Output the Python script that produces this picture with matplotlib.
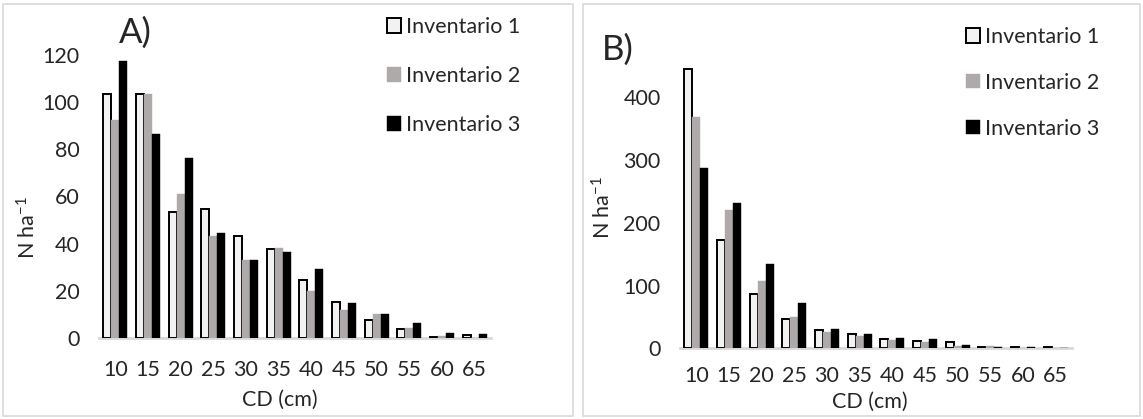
"""
Diametric distribution (N/ha by diameter class) for three inventories,
two panels A) and B) in the style of an Excel column chart
"""

import numpy as np
import matplotlib
matplotlib.use('Agg')
import matplotlib.pyplot as plt
from matplotlib.patches import Rectangle

# diameter classes (cm)
classes = ['10', '15', '20', '25', '30', '35', '40', '45', '50', '55', '60', '65']
series = ['Inventario 1', 'Inventario 2', 'Inventario 3']

# panel A values (N/ha)
a_inv1 = [103.3, 103.3, 53.2, 54.6, 43.3, 37.9, 24.6, 15.1, 7.8, 3.8, 0.4, 1.1]
a_inv2 = [92.4, 103.3, 61.1, 43.2, 33.0, 38.3, 19.8, 11.7, 10.3, 4.2, 1.0, 0.0]
a_inv3 = [117.2, 86.5, 76.4, 44.3, 33.0, 36.4, 29.1, 15.0, 10.3, 6.4, 2.3, 1.6]

# panel B values (N/ha)
b_inv1 = [445, 173, 86.6, 47.3, 29.0, 23.4, 15.4, 12.2, 9.6, 1.6, 2.1, 1.6]
b_inv2 = [368, 220, 108, 49.4, 26.6, 20.0, 13.8, 10.6, 3.7, 4.2, 1.0, 0.5]
b_inv3 = [287, 231, 134, 72.8, 30.8, 22.3, 15.9, 14.9, 5.8, 2.7, 1.6, 0.0]

# style
fill = ['#f2f2f2', '#aeaaaa', '#000000']
edge = ['#000000', '#aeaaaa', '#000000']
txt = '#262626'
plt.rcParams['font.family'] = ['Lato', 'DejaVu Sans']
plt.rcParams['mathtext.default'] = 'regular'
fs = 15.5

W, H = 1143, 419
plt.close('all')
fig = plt.figure(figsize=(W / 100, H / 100), dpi=100)

# panel borders (pixel boxes -> figure fractions)
for x0, x1 in [(3, 573), (583, 1140)]:
    fig.patches.append(Rectangle((x0 / W, 1 - 416 / H), (x1 - x0) / W, 412 / H,
                                 transform=fig.transFigure, fill=False,
                                 edgecolor='#d9d9d9', linewidth=1.2))


def ftext(px, py, s, **kw):
    # text placed by pixel centre
    fig.text(px / W, 1 - py / H, s, ha='center', va='center', color=txt, **kw)


def panel(rect, data, ymax, yticks, ylab_xy, xlab_xy, letter, letter_xy,
          leg_xy, xpad, lsp):
    ax = fig.add_axes(rect)
    x = np.arange(len(classes))
    w = 0.245
    for i, vals in enumerate(data):
        ax.bar(x + (i - 1) * w, vals, width=w, color=fill[i],
               edgecolor=edge[i], linewidth=1.4 if i == 0 else 0.3,
               label=series[i], zorder=3)
    ax.set_xlim(-0.5, 11.5)
    ax.set_ylim(0, ymax)
    ax.set_xticks(x)
    ax.set_xticklabels(classes)
    ax.set_yticks(yticks)
    for s in ['top', 'right', 'left']:
        ax.spines[s].set_visible(False)
    ax.spines['bottom'].set_color('#d9d9d9')
    ax.spines['bottom'].set_linewidth(2)
    ax.spines['bottom'].set_zorder(2)
    ax.tick_params(axis='y', length=0, pad=14, labelsize=fs, labelcolor=txt)
    ax.tick_params(axis='x', length=0, pad=xpad, labelsize=fs, labelcolor=txt)
    ftext(ylab_xy[0], ylab_xy[1], 'N ha$^{-1}$', fontsize=fs, rotation=90)
    ftext(xlab_xy[0], xlab_xy[1], 'CD (cm)', fontsize=fs)
    ftext(letter_xy[0], letter_xy[1], letter, fontsize=25)
    leg = ax.legend(loc='upper left', bbox_to_anchor=(leg_xy[0] / W, 1 - leg_xy[1] / H),
                    bbox_transform=fig.transFigure, frameon=False, fontsize=fs,
                    handlelength=0.65, handleheight=0.65, handletextpad=0.25,
                    labelspacing=lsp, borderpad=0, borderaxespad=0)
    for t in leg.get_texts():
        t.set_color(txt)
    return ax


# left panel A)
panel([99 / W, 1 - 338 / H, 392 / W, 298 / H], [a_inv1, a_inv2, a_inv3],
      (338 - 40) / 2.36, range(0, 121, 20), (28, 227), (280, 400),
      'A)', (135, 33), (387, 17), 16, 1.35)

# right panel B)
panel([680 / W, 1 - 348.3 / H, 392 / W, 308.3 / H], [b_inv1, b_inv2, b_inv3],
      (348.3 - 40) / 0.6275, range(0, 401, 100), (603, 207), (870, 402),
      'B)', (618, 50), (966, 27), 13, 1.2)

fig.savefig('out.png', dpi=100)
